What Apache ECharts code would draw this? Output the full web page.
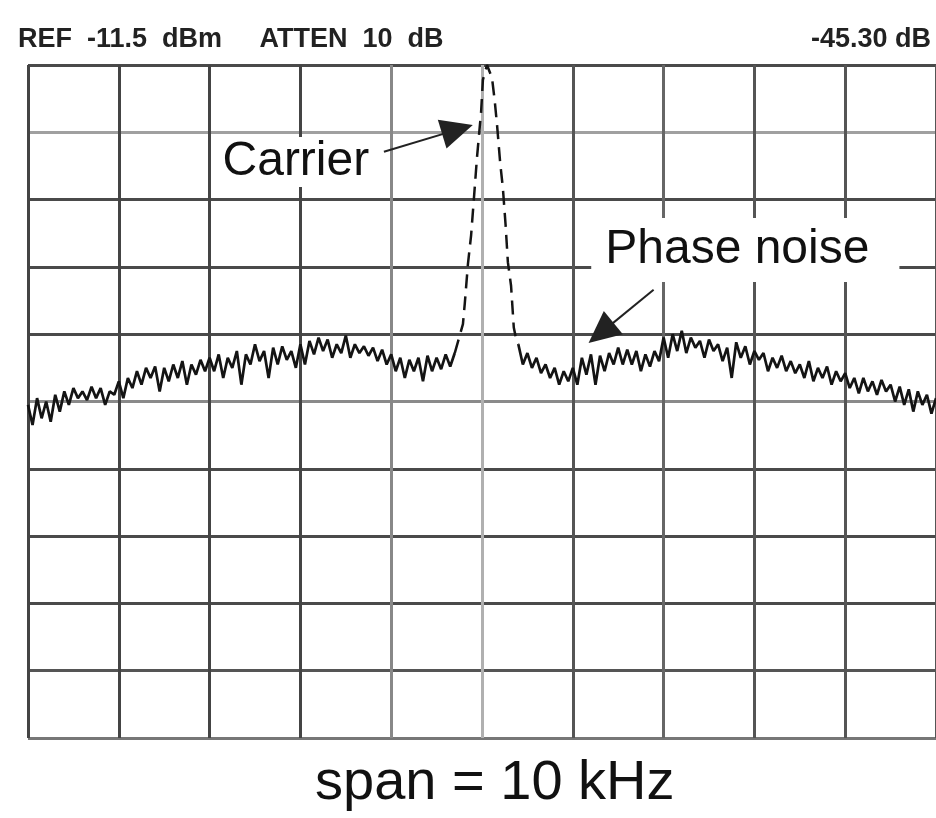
<!DOCTYPE html>
<html>
<head>
<meta charset="utf-8">
<script src="https://cdn.jsdelivr.net/npm/echarts@6/dist/echarts.min.js"></script>
<style>
  html, body { margin: 0; padding: 0; background: #fff; }
  #main { width: 936px; height: 818px; }
</style>
</head>
<body>
<div id="main"></div>
<script>
// sweep: -5 .. +5 kHz around the carrier, one bin every 0.05 kHz
var traceStartKHz = -5;
var traceStepKHz = 0.05;

// level in dB below the reference line (10 dB / div), null where the carrier is drawn
var traceDb = [
  -50.5, -53.5, -49.5, -52.5, -50, -53, -49, -51.5, -48.5, -50.5,
  -48, -49.5, -48.5, -49.8, -47.8, -49.5, -48, -50.5, -48.5, -49,
  -47, -49.5, -46.5, -48, -45.5, -47.5, -45, -46.5, -44.8, -48.5,
  -45, -47, -44.5, -46.5, -44, -47.5, -44.5, -46, -43.8, -45.5,
  -43.5, -45.5, -43, -46.5, -43.5, -45, -42.5, -47.5, -43, -44.5,
  -41.5, -44, -42.5, -46.5, -42, -44.5, -41.8, -43.8, -42.5, -45,
  -41.5, -44.5, -41, -43, -40.5, -42.5, -40.8, -43.5, -41.5, -42.8,
  -40.2, -43.5, -41.5, -42.8, -41.8, -43.2, -42, -44, -42.3, -44.5,
  -43, -45.5, -43.5, -46.5, -43.8, -45.5, -43.5, -47, -43.2, -45.5,
  -43.5, -45.2, -43, -44.8, -42.8,
  null, null, null, null, null, null, null, null, null, null, null, null, null,
  -41.5, -44.5, -42.8, -45, -43.5, -45.8, -44.5, -46.5, -45, -47.5,
  -45.5, -47, -45, -47.5, -43.5, -46, -43, -47.5, -43.2, -45.5,
  -42.8, -44.5, -42, -44.5, -42.3, -44.5, -42.5, -45.5, -43, -44.8,
  -42.5, -44, -40.5, -43.5, -40, -42.5, -39.5, -42.8, -40.5, -42,
  -41, -43.5, -40.8, -42.5, -41.5, -44, -42, -46.5, -41.2, -43.5,
  -41.8, -44.5, -42.5, -43.8, -42.8, -45.5, -43.5, -45, -43.2, -45.5,
  -44, -45.8, -44.5, -46.5, -44, -47, -45, -46.5, -44.8, -47.5,
  -45.5, -47, -45.8, -48, -46.5, -48.8, -46.5, -48.5, -47, -49,
  -46.8, -48.5, -47.5, -50, -47.8, -50.5, -48.2, -51.5, -48.5, -50.5,
  -49, -51.8, -49.5
];

// carrier skirt, drawn dashed like the sampled display
var carrierKHz = [-0.30, -0.21, -0.19, -0.155, -0.12, -0.09, -0.055, -0.01, 0.01, 0.055,
                  0.11, 0.14, 0.165, 0.2, 0.23, 0.26, 0.285, 0.32, 0.35, 0.38, 0.40];
var carrierDb  = [-42.8, -38.5, -35.5, -29.6, -25.3, -20, -13.7, -7, -2.2, 0,
                  -1.9, -5.3, -8.8, -14.5, -18.3, -23.8, -29.3, -32.8, -39, -41, -41.5];

var headerLeft = 'REF  -11.5  dBm     ATTEN  10  dB';
var headerRight = '-45.30 dB';
var spanText = 'span = 10 kHz';

var font = "'Liberation Sans', Arial, Helvetica, sans-serif";

var traceData = traceDb.map(function (v, i) {
  return [+(traceStartKHz + i * traceStepKHz).toFixed(2), v];
});
var carrierData = carrierKHz.map(function (f, i) { return [f, carrierDb[i]]; });

var myChart = echarts.init(document.getElementById('main'));
myChart.setOption({
  backgroundColor: '#fff',
  animation: false,
  title: [
    {
      text: headerLeft, left: 13, top: 21,
      textStyle: { fontFamily: font, fontSize: 27, fontWeight: 'bold', color: '#222' }
    },
    {
      text: headerRight, right: 0, top: 21,
      textStyle: { fontFamily: font, fontSize: 27, fontWeight: 'bold', color: '#222' }
    },
    {
      text: spanText, left: 310, top: 751,
      textStyle: { fontFamily: font, fontSize: 56, fontWeight: 'normal', color: '#111' }
    }
  ],
  grid: { left: 28, right: -2, top: 65, bottom: 80, containLabel: false },
  xAxis: {
    type: 'value',
    min: -5, max: 5, interval: 1,
    axisLine: { show: false },
    axisTick: { show: false },
    axisLabel: { show: false },
    splitLine: {
      show: true,
      lineStyle: {
        width: 3,
        color: ['#444', '#444', '#444', '#444', '#888', '#b0b0b0', '#555', '#666', '#555', '#555', '#555']
      }
    }
  },
  yAxis: {
    type: 'value',
    min: -100, max: 0, interval: 10,
    axisLine: { show: false },
    axisTick: { show: false },
    axisLabel: { show: false },
    splitLine: {
      show: true,
      lineStyle: {
        width: 3,
        color: ['#777', '#555', '#4a4a4a', '#4a4a4a', '#4a4a4a', '#8a8a8a', '#4a4a4a', '#4a4a4a', '#4a4a4a', '#a0a0a0', '#4a4a4a']
      }
    }
  },
  series: [
    {
      name: 'trace',
      type: 'line',
      data: traceData,
      showSymbol: false,
      connectNulls: false,
      lineStyle: { color: '#141414', width: 2.7 },
      markLine: {
        silent: true,
        symbol: ['none', 'triangle'],
        symbolSize: [30, 32],
        label: { show: false },
        lineStyle: { color: '#222', width: 2, type: 'solid' },
        data: [
          [{ coord: [-1.08, -12.9] }, { coord: [-0.27, -9.6] }],
          [{ coord: [1.89, -33.4] }, { coord: [1.31, -39.8] }]
        ]
      },
      markPoint: {
        silent: true,
        symbol: 'rect',
        symbolSize: 1,
        itemStyle: { color: 'rgba(0,0,0,0)' },
        label: {
          show: true,
          position: 'inside',
          fontFamily: font,
          fontSize: 48,
          color: '#111',
          backgroundColor: '#fff',
          padding: [0, 10, 2, 10]
        },
        data: [
          { coord: [-2.05, -14.4], value: 'Carrier', label: { formatter: 'Carrier' } },
          { coord: [2.9, -27.5], value: 'Phase noise', label: { formatter: 'Phase noise', padding: [6, 30, 10, 14] } }
        ]
      }
    },
    {
      name: 'carrier',
      type: 'line',
      data: carrierData,
      showSymbol: false,
      lineStyle: { color: '#141414', width: 2.5, type: [14, 8] }
    }
  ]
});
</script>
</body>
</html>
